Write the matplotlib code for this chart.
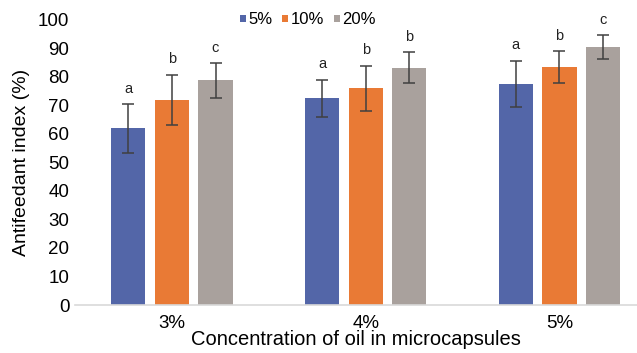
import numpy as np
import matplotlib
matplotlib.use("Agg")
import matplotlib.pyplot as plt

groups = ["3%", "4%", "5%"]
series = ["5%", "10%", "20%"]
values = {
    "5%": [62.0, 72.5, 77.5],
    "10%": [72.0, 76.0, 83.5],
    "20%": [78.8, 83.3, 90.5],
}
errors = {
    "5%": [8.5, 6.5, 8.2],
    "10%": [8.7, 8.0, 5.6],
    "20%": [6.0, 5.4, 4.2],
}
letters = {
    "5%": ["a", "a", "a"],
    "10%": ["b", "b", "b"],
    "20%": ["c", "b", "c"],
}
colors = ["#5366a8", "#e97a35", "#a9a19d"]

plt.rcParams["font.family"] = ["Liberation Sans", "DejaVu Sans"]

fig = plt.figure(figsize=(6.37, 3.53), dpi=100)
ax = fig.add_axes([75 / 637, 48 / 353, 562 / 637, 285 / 353])

x = np.arange(len(groups))
width = 0.176
step = 0.225
for i, s in enumerate(series):
    pos = x + (i - 1) * step
    ax.bar(pos, values[s], width, color=colors[i], label=s,
           yerr=errors[s], error_kw=dict(ecolor="#404040", elinewidth=1.1, capsize=4, capthick=1.1))
    for p, v, e, t in zip(pos, values[s], errors[s], letters[s]):
        ax.text(p, v + e + 3, t, ha="center", va="bottom", fontsize=10.5, color="#222222")

ax.set_xlim(-0.5, 2.40)
ax.set_ylim(0, 100)
ax.set_yticks(range(0, 101, 10))
ax.set_xticks(x)
ax.set_xticklabels(groups)
ax.tick_params(axis="both", length=0, labelsize=13.5, pad=4)
ax.tick_params(axis="x", pad=7)
for side in ["top", "right", "left"]:
    ax.spines[side].set_visible(False)
ax.spines["bottom"].set_color("#d9d9d9")
ax.spines["bottom"].set_linewidth(1.2)

ax.set_ylabel("Antifeedant index (%)", fontsize=14, labelpad=6)
ax.set_xlabel("Concentration of oil in microcapsules", fontsize=14.5, labelpad=-1)

ax.legend(loc="center", bbox_to_anchor=(0.414, 1.0), ncol=3, frameon=False,
          fontsize=12, handlelength=0.35, handleheight=0.35, handletextpad=0.15,
          columnspacing=0.6, borderpad=0)

fig.savefig("out.png", dpi=100)
